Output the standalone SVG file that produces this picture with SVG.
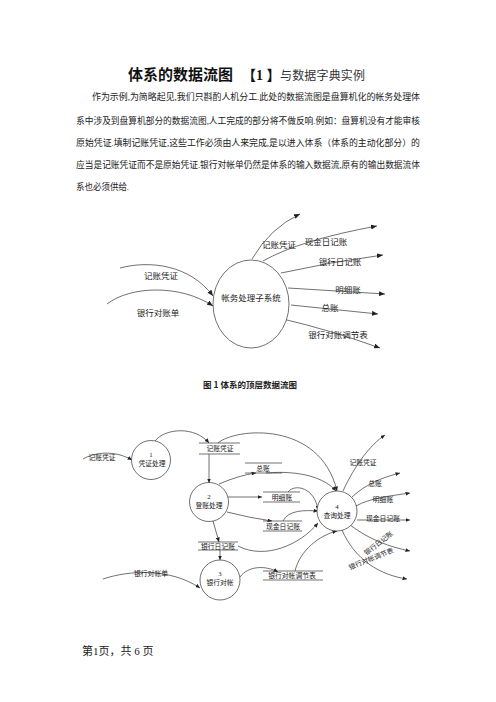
<svg xmlns="http://www.w3.org/2000/svg" width="496" height="702" viewBox="0 0 496 702">
<defs>
<marker id="a" markerWidth="6" markerHeight="5" refX="6" refY="2.5" orient="auto" markerUnits="userSpaceOnUse"><path d="M0,0 L6,2.5 L0,5 z" fill="#222"/></marker>
<marker id="b" markerWidth="4.5" markerHeight="4" refX="4.5" refY="2" orient="auto" markerUnits="userSpaceOnUse"><path d="M0,0 L4.5,2 L0,4 z" fill="#222"/></marker>
<style>
.t{font-family:"Liberation Serif","Noto Sans CJK SC",serif;fill:#222}
.p{font-size:9px}
.f1{font-size:8.5px;text-anchor:middle}
.f2{font-size:6.8px;text-anchor:middle}
.ln{fill:none;stroke:#333;stroke-width:0.7}
.l1{marker-end:url(#a)}
.l2{marker-end:url(#b)}
.c{fill:#fff;stroke:#333;stroke-width:0.7}
.s{stroke:#333;stroke-width:0.7}
</style>
</defs>
<rect width="496" height="702" fill="#fff"/>
<g id="title">
<text x="128" y="80" style="font-family:'Noto Sans CJK SC',sans-serif;font-size:15px;font-weight:bold;fill:#111" textLength="105">体系的数据流图</text>
<text x="242" y="80" style="font-family:'Liberation Serif','Noto Sans CJK SC',serif;font-size:14px;font-weight:bold;fill:#111">【1 】</text>
<text x="280" y="80" style="font-family:'Noto Sans CJK SC',sans-serif;font-size:12px;fill:#333" textLength="85">与数据字典实例</text>
</g>
<g id="paragraph">
<text class="t p" x="92" y="100" textLength="328" lengthAdjust="spacingAndGlyphs">作为示例,为简略起见,我们只斟酌人机分工.此处的数据流图是盘算机化的帐务处理体</text>
<text class="t p" x="76" y="124" textLength="344" lengthAdjust="spacingAndGlyphs">系中涉及到盘算机部分的数据流图,人工完成的部分将不做反响.例如：盘算机没有才能审核</text>
<text class="t p" x="76" y="146" textLength="344" lengthAdjust="spacingAndGlyphs">原始凭证.填制记账凭证,这些工作必须由人来完成,是以进入体系（体系的主动化部分）的</text>
<text class="t p" x="76" y="168" textLength="344" lengthAdjust="spacingAndGlyphs">应当是记账凭证而不是原始凭证.银行对帐单仍然是体系的输入数据流,原有的输出数据流体</text>
<text class="t p" x="76" y="190" textLength="53" lengthAdjust="spacingAndGlyphs">系也必须供给.</text>
</g>
<g id="fig1-connectors">
<path class="ln l1" d="M120,268 C150,260 190,265 213,296"/>
<path class="ln l1" d="M107,304 C130,286 180,284 213,306"/>
<path class="ln l1" d="M252,259 Q270,228 300,214"/>
<path class="ln l1" d="M263,261 Q300,240 377,226"/>
<path class="ln l1" d="M281,273 Q330,262 383,255"/>
<path class="ln l1" d="M288,288 L385,294"/>
<path class="ln l1" d="M291,305 L378,314"/>
<path class="ln l1" d="M283,319 Q330,330 380,348"/>
</g>
<g id="fig1-node">
<ellipse class="c" cx="251" cy="304" rx="38" ry="44"/>
<text class="t f1" x="251" y="301">帐务处理子系统</text>
</g>
<g id="fig1-labels">
<text class="t f1" x="161" y="279">记账凭证</text>
<text class="t f1" x="158" y="316">银行对账单</text>
<text class="t f1" x="279" y="248">记账凭证</text>
<text class="t f1" x="326" y="245">现金日记账</text>
<text class="t f1" x="340" y="265">银行日记账</text>
<text class="t f1" x="348" y="293">明细账</text>
<text class="t f1" x="330" y="311">总账</text>
<text class="t f1" x="338" y="338">银行对账调节表</text>
</g>
<text x="250" y="388" text-anchor="middle" style="font-family:'Noto Sans CJK SC',sans-serif;font-size:8.5px;font-weight:bold;fill:#222">图 1  体系的顶层数据流图</text>
<g id="fig2-connectors">
<path class="ln l2" d="M83,459 C95,452 115,450 132,460"/>
<path class="ln l2" d="M155,441 C165,428 195,426 209,443"/>
<path class="ln l2" d="M209,454 L209,483"/>
<path class="ln l2" d="M218,443 C235,428 320,420 337,491"/>
<path class="ln l2" d="M219,484 Q240,475 256,473"/>
<path class="ln l2" d="M266,473 C300,470 325,478 336,491"/>
<path class="ln l2" d="M228,497 L262,497"/>
<path class="ln l2" d="M288,492 C295,483 315,488 318,510"/>
<path class="ln l2" d="M227,512 Q250,518 272,521"/>
<path class="ln l2" d="M283,521 C288,510 305,510 318,511"/>
<path class="ln l2" d="M213,521 L219,542"/>
<path class="ln l2" d="M220,550 L220,560"/>
<path class="ln l2" d="M238,546 C265,560 300,545 318,523"/>
<path class="ln l2" d="M103,579 C130,570 170,568 200,588"/>
<path class="ln l2" d="M240,577 C248,566 265,565 278,572"/>
<path class="ln l2" d="M295,571 C300,550 320,535 337,531"/>
<path class="ln l2" d="M343,491 C355,465 370,445 385,435"/>
<path class="ln l2" d="M352,497 C365,485 380,478 400,473"/>
<path class="ln l2" d="M356,506 C370,498 390,496 410,493"/>
<path class="ln l2" d="M357,520 L410,520"/>
<path class="ln l2" d="M350,525 C370,540 390,547 410,551"/>
<path class="ln l2" d="M342,530 C355,560 380,575 407,579"/>
</g>
<g id="p1">
<circle class="c" cx="151" cy="460" r="19.5"/>
<text class="t f2" x="151" y="457">1</text>
<text class="t f2" x="152" y="466">凭证处理</text>
</g>
<g id="p2">
<circle class="c" cx="209" cy="502" r="19.5"/>
<text class="t f2" x="209" y="499">2</text>
<text class="t f2" x="209" y="508">登账处理</text>
</g>
<g id="p3">
<circle class="c" cx="220" cy="580" r="20"/>
<text class="t f2" x="220" y="576">3</text>
<text class="t f2" x="220" y="585">银行对帐</text>
</g>
<g id="p4">
<circle class="c" cx="337" cy="511" r="20"/>
<text class="t f2" x="337" y="509">4</text>
<text class="t f2" x="337" y="518">查询处理</text>
</g>
<g id="d1">
<line class="s" x1="199" y1="443" x2="240" y2="443"/><line class="s" x1="199" y1="454" x2="240" y2="454"/>
<text class="t f2" x="220" y="451">记账凭证</text>
</g>
<g id="d2">
<line class="s" x1="245" y1="463" x2="282" y2="463"/><line class="s" x1="245" y1="473" x2="282" y2="473"/>
<text class="t f2" x="263" y="470.5">总账</text>
</g>
<g id="d3">
<line class="s" x1="263" y1="492" x2="300" y2="492"/><line class="s" x1="263" y1="502" x2="300" y2="502"/>
<text class="t f2" x="282" y="499.5">明细账</text>
</g>
<g id="d4">
<line class="s" x1="263" y1="521" x2="302" y2="521"/><line class="s" x1="263" y1="531" x2="302" y2="531"/>
<text class="t f2" x="283" y="528.5">现金日记账</text>
</g>
<g id="d5">
<line class="s" x1="198" y1="542" x2="238" y2="542"/><line class="s" x1="198" y1="550" x2="238" y2="550"/>
<text class="t f2" x="218" y="548.5">银行日记账</text>
</g>
<g id="d6">
<line class="s" x1="263" y1="571" x2="323" y2="571"/><line class="s" x1="263" y1="580" x2="323" y2="580"/>
<text class="t f2" x="292" y="578">银行对帐调节表</text>
</g>
<g id="fig2-labels">
<text class="t f2" x="102" y="460">记账凭证</text>
<text class="t f2" x="151" y="576">银行对帐单</text>
<text class="t f2" x="363" y="465">记账凭证</text>
<text class="t f2" x="375" y="486">总账</text>
<text class="t f2" x="383" y="502">明细账</text>
<text class="t f2" x="383" y="521">现金日记账</text>
<text class="t f2" transform="translate(380,545) rotate(-38)">银行日记账</text>
<text class="t f2" transform="translate(372,561) rotate(-22)">银行对帐调节表</text>
</g>
<text class="t" x="82" y="655" style="font-size:11px">第1页，共 6 页</text>
</svg>
